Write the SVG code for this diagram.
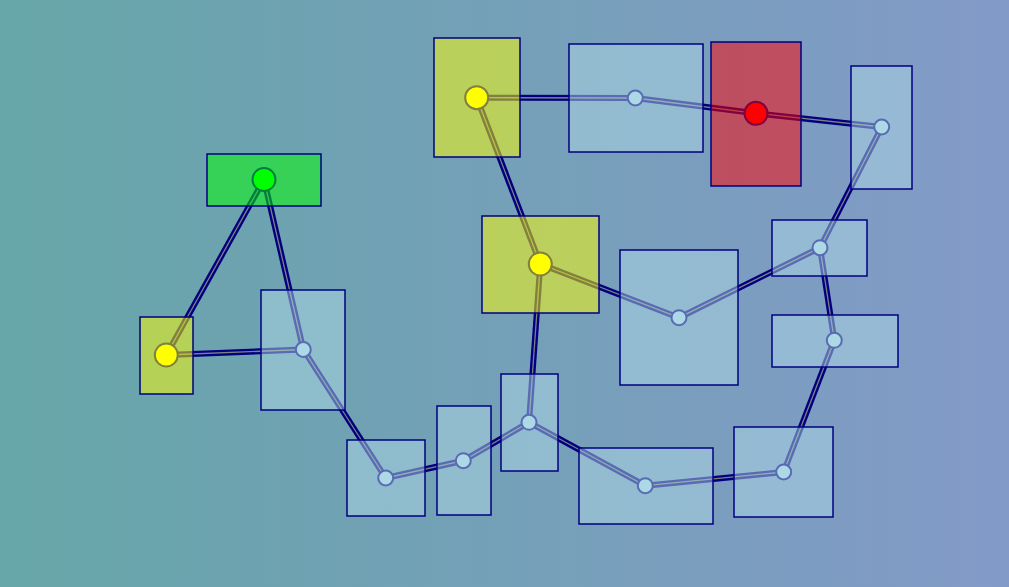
<svg xmlns="http://www.w3.org/2000/svg" width="1009" height="587" viewBox="0 0 1009 587">
<defs>
<linearGradient id="bg" x1="0" y1="0" x2="1" y2="0">
<stop offset="0" stop-color="#66a6a8"/>
<stop offset="1" stop-color="#839ac8"/>
</linearGradient>
</defs>
<style>
.e1{stroke:#000080;stroke-width:6;fill:none}
.e2{stroke:#808080;stroke-width:1.3;fill:none}
.c{stroke:#000080;stroke-width:2}
.r{stroke:#000080;stroke-width:1.5;fill-opacity:0.5}
.lb{fill:#add8e6}
.yl{fill:#ffff00}
.gr{fill:#00ff00}
.rd{fill:#ff0000}
</style>
<rect x="0" y="0" width="1009" height="587" fill="url(#bg)"/>
<g id="connectors">
<g class="e1">
<path d="M264,179.5 L166.3,355"/>
<path d="M264,179.5 L303.3,349.5"/>
<path d="M166.3,355 L303.3,349.5"/>
<path d="M303.3,349.5 L385.7,478"/>
<path d="M385.7,478 L463.3,460.7"/>
<path d="M463.3,460.7 L529,422.3"/>
<path d="M529,422.3 L540.3,264"/>
<path d="M529,422.3 L645.3,485.7"/>
<path d="M645.3,485.7 L783.7,472"/>
<path d="M783.7,472 L834.3,340.3"/>
<path d="M834.3,340.3 L820,247.7"/>
<path d="M820,247.7 L679,317.7"/>
<path d="M679,317.7 L540.3,264"/>
<path d="M540.3,264 L476.7,97.7"/>
<path d="M476.7,97.7 L635.3,98"/>
<path d="M635.3,98 L756,113.3"/>
<path d="M756,113.3 L881.7,127"/>
<path d="M881.7,127 L820,247.7"/>
</g>
<g class="e2">
<path d="M264,179.5 L166.3,355"/>
<path d="M264,179.5 L303.3,349.5"/>
<path d="M166.3,355 L303.3,349.5"/>
<path d="M303.3,349.5 L385.7,478"/>
<path d="M385.7,478 L463.3,460.7"/>
<path d="M463.3,460.7 L529,422.3"/>
<path d="M529,422.3 L540.3,264"/>
<path d="M529,422.3 L645.3,485.7"/>
<path d="M645.3,485.7 L783.7,472"/>
<path d="M783.7,472 L834.3,340.3"/>
<path d="M834.3,340.3 L820,247.7"/>
<path d="M820,247.7 L679,317.7"/>
<path d="M679,317.7 L540.3,264"/>
<path d="M540.3,264 L476.7,97.7"/>
<path d="M476.7,97.7 L635.3,98"/>
<path d="M635.3,98 L756,113.3"/>
<path d="M756,113.3 L881.7,127"/>
<path d="M881.7,127 L820,247.7"/>
</g>
</g>
<g id="nG"><circle class="c gr" cx="264" cy="179.5" r="11.5"/><rect class="r gr" x="207" y="154" width="114" height="52"/></g>
<g id="nY1"><circle class="c yl" cx="166.3" cy="355" r="11.5"/><rect class="r yl" x="140" y="317" width="53" height="77"/></g>
<g id="nA"><circle class="c lb" cx="303.3" cy="349.5" r="7.5"/><rect class="r lb" x="261" y="290" width="84" height="120"/></g>
<g id="nB"><circle class="c lb" cx="385.7" cy="478" r="7.5"/><rect class="r lb" x="347" y="440" width="78" height="76"/></g>
<g id="nC"><circle class="c lb" cx="463.3" cy="460.7" r="7.5"/><rect class="r lb" x="437" y="406" width="54" height="109"/></g>
<g id="nD"><circle class="c lb" cx="529" cy="422.3" r="7.5"/><rect class="r lb" x="501" y="374" width="57" height="97"/></g>
<g id="nE"><circle class="c lb" cx="645.3" cy="485.7" r="7.5"/><rect class="r lb" x="579" y="448" width="134" height="76"/></g>
<g id="nF"><circle class="c lb" cx="783.7" cy="472" r="7.5"/><rect class="r lb" x="734" y="427" width="99" height="90"/></g>
<g id="nH"><circle class="c lb" cx="834.3" cy="340.3" r="7.5"/><rect class="r lb" x="772" y="315" width="126" height="52"/></g>
<g id="nI"><circle class="c lb" cx="820" cy="247.7" r="7.5"/><rect class="r lb" x="772" y="220" width="95" height="56"/></g>
<g id="nJ"><circle class="c lb" cx="881.7" cy="127" r="7.5"/><rect class="r lb" x="851" y="66" width="61" height="123"/></g>
<g id="nR"><circle class="c rd" cx="756" cy="113.3" r="11.5"/><rect class="r rd" x="711" y="42" width="90" height="144"/></g>
<g id="nK"><circle class="c lb" cx="635.3" cy="98" r="7.5"/><rect class="r lb" x="569" y="44" width="134" height="108"/></g>
<g id="nY2"><circle class="c yl" cx="476.7" cy="97.7" r="11.5"/><rect class="r yl" x="434" y="38" width="86" height="119"/></g>
<g id="nY3"><circle class="c yl" cx="540.3" cy="264" r="11.5"/><rect class="r yl" x="482" y="216" width="117" height="97"/></g>
<g id="nL"><circle class="c lb" cx="679" cy="317.7" r="7.5"/><rect class="r lb" x="620" y="250" width="118" height="135"/></g>
</svg>
